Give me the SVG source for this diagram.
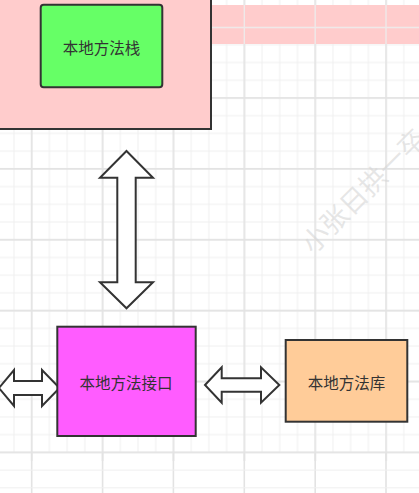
<svg xmlns="http://www.w3.org/2000/svg" width="419" height="493" viewBox="0 0 419 493">
<style>
.box{stroke:#333333;stroke-width:2}
.arrow{fill:#ffffff;stroke:#333333;stroke-width:2;stroke-linejoin:miter}
.lbl{font-family:"Noto Sans CJK SC","Noto Sans",sans-serif;font-size:15.5px;fill:#333333;text-anchor:middle;dominant-baseline:central}
</style>
<defs>
<pattern id="minor" patternUnits="userSpaceOnUse" x="22.84" y="18.24" width="17.72" height="17.72">
<path d="M8.86 0V17.72M0 8.86H17.72" stroke="#efefef" stroke-width="1" fill="none"/>
</pattern>
<pattern id="major" patternUnits="userSpaceOnUse" x="22.84" y="18.24" width="70.88" height="70.88">
<path d="M8.86 0V70.88M0 8.86H70.88" stroke="#e3e3e3" stroke-width="1.6" fill="none"/>
</pattern>
</defs>
<rect width="419" height="493" fill="#ffffff"/>
<rect x="0" y="0" width="419" height="453" fill="url(#minor)"/>
<rect x="0" y="0" width="419" height="461" fill="url(#major)"/>
<g stroke="#e3e3e3" stroke-width="1.6">
<path d="M31.7 453V493M102.6 453V493M173.4 453V493M244.3 453V493M315.2 453V493M386 453V493"/>
</g>
<path d="M0 470.1H419M0 487.8H419" stroke="#efefef" stroke-width="1"/>
<rect x="211" y="5" width="208" height="39" fill="#ffcccc"/>
<path d="M244.3 5V44M315.2 5V44M386 5V44M211 27.5H419" stroke="#efe9e9" stroke-width="1.4"/>
<text x="313" y="255" transform="rotate(-45 313 255)" font-family="Noto Sans CJK SC,sans-serif" font-size="27" fill="#d6d6d6" fill-opacity="0.6">小张日拱一卒</text>
<g id="connectors">
<polygon class="arrow" points="126.5,151 153,177.7 135.7,177.7 135.7,282.3 153,282.3 126.5,308.3 100,282.3 117.3,282.3 117.3,177.7 100,177.7"/>
<polygon class="arrow" points="-1,388 14,370 14,381 42,381 42,370 59.5,388 42,406 42,395 14,395 14,406"/>
<polygon class="arrow" points="205,385 221.7,367.3 221.7,378.3 261,378.3 261,367.3 279.3,385 261,402.7 261,391.7 221.7,391.7 221.7,402.7"/>
</g>
<g id="outer">
<rect class="box" x="-10" y="-10" width="221" height="139" fill="#ffcccc"/>
</g>
<g id="stack">
<rect class="box" x="40.7" y="4.7" width="121.6" height="82.6" rx="3" fill="#66ff66"/>
<text class="lbl" x="101.5" y="47">本地方法栈</text>
</g>
<g id="interface">
<rect class="box" x="57.3" y="326.7" width="138.4" height="109.3" fill="#ff5cff"/>
<text class="lbl" x="126" y="382">本地方法接口</text>
</g>
<g id="library">
<rect class="box" x="285.7" y="340" width="121.6" height="81.7" fill="#ffcc99"/>
<text class="lbl" x="346.5" y="382">本地方法库</text>
</g>
</svg>
